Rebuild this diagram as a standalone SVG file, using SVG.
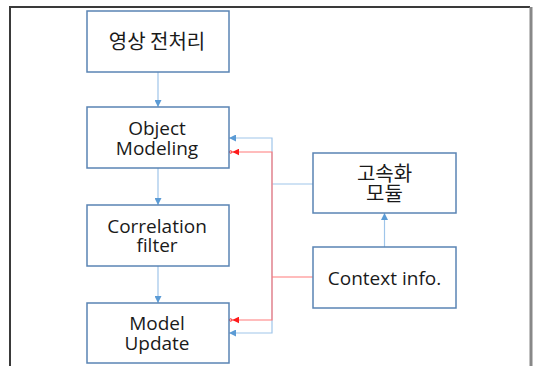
<svg xmlns="http://www.w3.org/2000/svg" width="533" height="366" viewBox="0 0 533 366">
<defs>
<style>
.box{fill:#fff;stroke:#5a84b4;stroke-width:1.5}
.t{font-family:"Open Sans","Noto Sans CJK KR",sans-serif;font-size:19px;fill:#1a1a1a;text-anchor:middle}
.k{font-family:"Noto Sans CJK KR",sans-serif;font-size:20px;fill:#1a1a1a;text-anchor:middle}
.bl{fill:none;stroke:#9fc5ea;stroke-width:1.2}
.rd{fill:none;stroke:#ff7a7a;stroke-width:1.2}
</style>
<marker id="ab" viewBox="0 0 8 8" refX="8" refY="4" markerWidth="7" markerHeight="7" markerUnits="userSpaceOnUse" orient="auto">
<path d="M0,0 L8,4 L0,8 Z" fill="#5b9bd5"/>
</marker>
<marker id="ar" viewBox="0 0 12 8" refX="12" refY="4" markerWidth="10" markerHeight="7" markerUnits="userSpaceOnUse" orient="auto">
<path d="M0,0 L8,4 L0,8 Z" fill="#ff1a1a"/>
<circle cx="10" cy="4" r="1.6" fill="none" stroke="#ff1a1a" stroke-width="1"/>
</marker>
</defs>
<rect width="533" height="366" fill="#fff"/>
<path d="M10,366 V7 H530" fill="none" stroke="#3a3a3a" stroke-width="2"/>
<path d="M531,7 V366" fill="none" stroke="#888" stroke-width="3"/>
<g id="connectors">
<path class="bl" d="M158,72 V107" marker-end="url(#ab)"/>
<path class="bl" d="M158,168 V205" marker-end="url(#ab)"/>
<path class="bl" d="M158,266 V303" marker-end="url(#ab)"/>
<path class="bl" d="M384.5,247 V213" marker-end="url(#ab)"/>
<path class="bl" d="M313,184 H272"/>
<path class="bl" d="M272,184 V138 H229" marker-end="url(#ab)"/>
<path class="bl" d="M272,184 V333 H229" marker-end="url(#ab)"/>
<path class="rd" d="M313,277 H272"/>
<path class="rd" d="M272,277 V152 H229" marker-end="url(#ar)"/>
<path class="rd" d="M272,277 V320 H229" marker-end="url(#ar)"/>
</g>
<g id="preprocess">
<rect class="box" x="87" y="11" width="142" height="61"/>
<text class="k" x="157" y="49">영상 전처리</text>
</g>
<g id="object-modeling">
<rect class="box" x="87" y="107" width="142" height="61"/>
<text class="t" x="157" y="135">Object</text>
<text class="t" x="157" y="155">Modeling</text>
</g>
<g id="correlation-filter">
<rect class="box" x="87" y="205" width="142" height="61"/>
<text class="t" x="157" y="233">Correlation</text>
<text class="t" x="157" y="252">filter</text>
</g>
<g id="model-update">
<rect class="box" x="87" y="303" width="142" height="60"/>
<text class="t" x="157" y="330">Model</text>
<text class="t" x="157" y="350">Update</text>
</g>
<g id="speedup-module">
<rect class="box" x="313" y="153" width="143" height="60"/>
<text class="k" x="384.5" y="181">고속화</text>
<text class="k" x="384.5" y="201">모듈</text>
</g>
<g id="context-info">
<rect class="box" x="313" y="247" width="143" height="61"/>
<text class="t" x="384.5" y="285">Context info.</text>
</g>
</svg>
